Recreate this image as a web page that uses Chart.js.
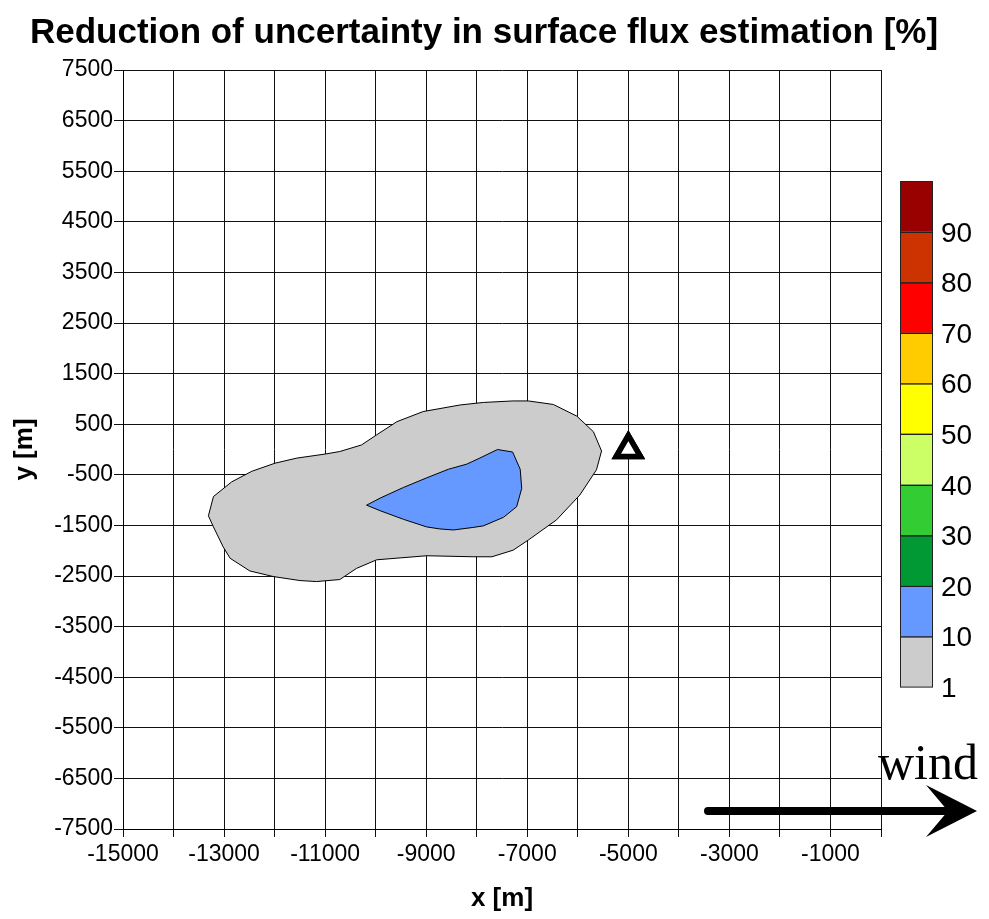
<!DOCTYPE html>
<html><head><meta charset="utf-8">
<script src="https://cdn.jsdelivr.net/npm/chart.js@4/dist/chart.umd.min.js"></script>
<style>html,body{margin:0;padding:0;background:#fff;overflow:hidden}canvas{display:block}</style>
</head><body>
<canvas id="c" width="989" height="919" style="width:989px;height:919px"></canvas>
<script>
// ---- text ----
const TITLE = 'Reduction of uncertainty in surface flux estimation [%]';
const X_TITLE = 'x [m]';
const Y_TITLE = 'y [m]';
const WIND_LABEL = 'wind';

// ---- axes ----
const X_TICKS = [-15000,-14000,-13000,-12000,-11000,-10000,-9000,-8000,-7000,-6000,-5000,-4000,-3000,-2000,-1000,0];
const X_LABELS = [-15000,-13000,-11000,-9000,-7000,-5000,-3000,-1000];
const Y_TICKS = [7500,6500,5500,4500,3500,2500,1500,500,-500,-1500,-2500,-3500,-4500,-5500,-6500,-7500];

// ---- colour scale (bottom to top) ----
const LEVELS = [1,10,20,30,40,50,60,70,80,90];
const LEVEL_COLORS = ['#CCCCCC','#6699FF','#009933','#33CC33','#CCFF66','#FFFF00','#FFCC00','#FF0000','#CC3300','#990000'];

// ---- contour: reduction 1-10 % ----
const REGION_1_X = [-6980,-6485,-6020,-5690,-5530,-5630,-5960,-6420,-6980,-7280,-7700,-8070,-8990,-9980,-10380,-10710,-11170,-11500,-12030,-12490,-12880,-13020,-13210,-13310,-13210,-12850,-12450,-11990,-11560,-11000,-10710,-10280,-9980,-9580,-9060,-8330,-7870,-7280];
const REGION_1_Y = [960,890,660,350,-30,-400,-900,-1390,-1790,-1990,-2120,-2120,-2100,-2180,-2350,-2570,-2610,-2590,-2510,-2400,-2150,-1920,-1530,-1310,-930,-640,-430,-270,-170,-90,-40,90,290,550,750,880,930,960];

// ---- contour: reduction 10-20 % ----
const REGION_10_X = [-10180,-9910,-9450,-8990,-8560,-8200,-7940,-7590,-7290,-7140,-7110,-7210,-7470,-7870,-8070,-8460,-8730,-8990,-9450,-9910];
const REGION_10_Y = [-1100,-960,-750,-560,-390,-290,-170,0,-50,-390,-770,-1130,-1340,-1510,-1540,-1590,-1570,-1530,-1380,-1210];

// ---- measurement station ----
const STATION_X = [-5000];
const STATION_Y = [0];

const FONT = '"Liberation Sans", Arial, Helvetica, sans-serif';
const SERIF = '"Liberation Serif", "Times New Roman", serif';

function closed(xs, ys) {
  const pts = xs.map((x, i) => ({x: x, y: ys[i]}));
  pts.push({x: xs[0], y: ys[0]});
  return pts;
}

const decorations = {
  id: 'decorations',
  afterDraw(chart) {
    const ctx = chart.ctx;
    const area = chart.chartArea;
    // station marker on top of the grid
    const meta = chart.getDatasetMeta(0);
    ctx.save();
    ctx.lineJoin = 'miter';
    meta.data.forEach(el => el.draw(ctx, area));
    ctx.restore();

    ctx.save();
    ctx.fillStyle = '#000';
    // title
    ctx.font = 'bold 35px ' + FONT;
    ctx.textAlign = 'center';
    ctx.textBaseline = 'alphabetic';
    ctx.fillText(TITLE, 484, 43);
    // x title
    ctx.font = 'bold 26px ' + FONT;
    ctx.fillText(X_TITLE, (area.left + area.right) / 2, 906);
    // y title
    ctx.save();
    ctx.translate(32, (area.top + area.bottom) / 2);
    ctx.rotate(-Math.PI / 2);
    ctx.fillText(Y_TITLE, 0, 0);
    ctx.restore();

    // colour bar
    const cbL = 900, cbR = 933, cbB = 687, cbT = 181;
    const h = (cbB - cbT) / LEVEL_COLORS.length;
    ctx.lineWidth = 1;
    ctx.strokeStyle = '#222';
    LEVEL_COLORS.forEach((c, i) => {
      const y1 = cbB - (i + 1) * h;
      ctx.fillStyle = c;
      ctx.fillRect(cbL, y1, cbR - cbL, h);
      ctx.strokeRect(cbL + 0.5, Math.round(y1) + 0.5, cbR - cbL - 1, h);
    });
    ctx.fillStyle = '#000';
    ctx.font = '28px ' + FONT;
    ctx.textAlign = 'left';
    ctx.textBaseline = 'alphabetic';
    LEVELS.forEach((lv, i) => {
      const y = cbB - i * h;
      ctx.fillText(String(lv), 941, y + 10);
    });

    // wind label and arrow
    ctx.font = '50px ' + SERIF;
    ctx.textAlign = 'left';
    ctx.fillText(WIND_LABEL, 878, 779);
    ctx.strokeStyle = '#000';
    ctx.lineWidth = 8;
    ctx.lineCap = 'round';
    ctx.beginPath();
    ctx.moveTo(708, 811);
    ctx.lineTo(950, 811);
    ctx.stroke();
    ctx.beginPath();
    ctx.moveTo(977, 811);
    ctx.lineTo(926, 785);
    ctx.lineTo(948, 811);
    ctx.lineTo(926, 837);
    ctx.closePath();
    ctx.fill();
    ctx.restore();
  }
};

const tickFont = {family: FONT, size: 23};

new Chart(document.getElementById('c'), {
  type: 'scatter',
  data: {
    datasets: [
      {
        label: 'station',
        data: STATION_X.map((x, i) => ({x: x, y: STATION_Y[i]})),
        pointStyle: 'triangle',
        pointRadius: 14,
        pointBorderWidth: 5.5,
        pointBorderColor: '#000',
        pointBackgroundColor: '#fff',
        showLine: false,
        order: 1
      },
      {
        label: '10-20 %',
        data: closed(REGION_10_X, REGION_10_Y),
        showLine: true,
        fill: 'shape',
        backgroundColor: LEVEL_COLORS[1],
        borderColor: '#000',
        borderWidth: 1,
        pointRadius: 0,
        tension: 0,
        order: 2
      },
      {
        label: '1-10 %',
        data: closed(REGION_1_X, REGION_1_Y),
        showLine: true,
        fill: 'shape',
        backgroundColor: LEVEL_COLORS[0],
        borderColor: '#000',
        borderWidth: 1,
        pointRadius: 0,
        tension: 0,
        order: 3
      }
    ]
  },
  options: {
    responsive: false,
    animation: false,
    devicePixelRatio: 1,
    events: [],
    layout: {padding: {top: 70, right: 108, left: 0, bottom: 0}},
    plugins: {
      legend: {display: false},
      tooltip: {enabled: false},
      title: {display: false}
    },
    scales: {
      x: {
        type: 'linear',
        position: 'bottom',
        min: -15000,
        max: 0,
        z: 1,
        afterBuildTicks: s => { s.ticks = X_TICKS.map(v => ({value: v})); },
        afterFit: s => { s.height = 90; },
        grid: {color: '#111', lineWidth: 1, tickLength: 8, tickColor: '#111', drawTicks: true},
        border: {color: '#000', width: 1},
        ticks: {
          autoSkip: false, maxRotation: 0, minRotation: 0, padding: 4, color: '#000', font: tickFont,
          callback: v => X_LABELS.includes(v) ? String(v) : ''
        }
      },
      y: {
        type: 'linear',
        position: 'left',
        min: -7500,
        max: 7500,
        z: 1,
        afterBuildTicks: s => { s.ticks = Y_TICKS.map(v => ({value: v})); },
        afterFit: s => { s.width = 123; },
        grid: {color: '#111', lineWidth: 1, tickLength: 9, tickColor: '#111', drawTicks: true},
        border: {color: '#000', width: 1},
        ticks: {
          autoSkip: false, padding: 1, color: '#000', font: tickFont,
          callback: v => String(v)
        }
      }
    }
  },
  plugins: [decorations]
});
</script>
</body></html>
